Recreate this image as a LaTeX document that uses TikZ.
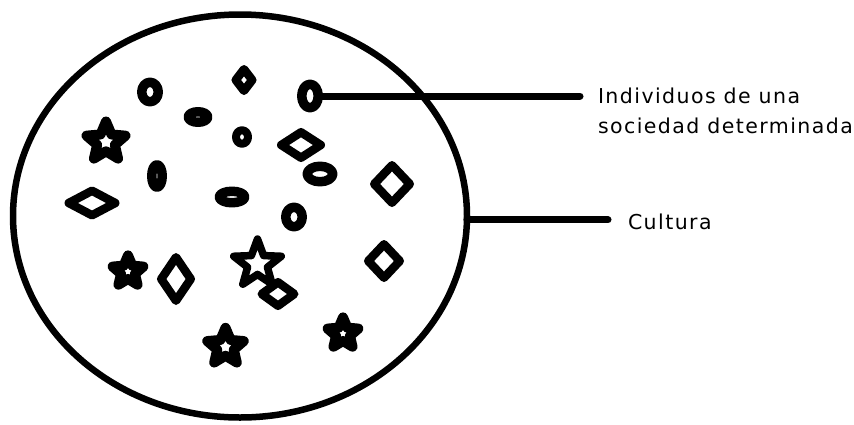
\documentclass[tikz,border=0pt]{standalone}
\usepackage{fontspec}
\setmainfont{DejaVu Sans}
\usetikzlibrary{shapes.geometric}
\begin{document}
\begin{tikzpicture}[x=1pt,y=-1pt,
  thing/.style={draw=black, line width=8.5pt, inner sep=0pt, outer sep=0pt, line join=round},
  oval/.style={thing, ellipse, line width=9.5pt},
  rhomb/.style={thing, diamond},
  starry/.style={thing, star, star points=5, star point ratio=2.2, line width=10pt},
  lbl/.style={font=\fontsize{20.5}{30}\selectfont\addfontfeature{LetterSpace=7}, inner sep=0pt, outer sep=0pt, anchor=base west},
  lead/.style={line width=7pt, line cap=round}]
\useasboundingbox[fill=white] (0,0) rectangle (854,424);
% the big circle: Cultura
\node[thing, ellipse, line width=6.5pt, minimum width=454pt, minimum height=403pt] (cult) at (240,216) {};
% individuals
\node[oval, minimum width=16.5pt, minimum height=19.5pt] (o1) at (150,92) {};
\node[rhomb, minimum width=16.5pt, minimum height=21.5pt] (d1) at (244,80) {};
\node[oval, minimum width=19.5pt, minimum height=10.5pt] (o2) at (198,117) {};
\node[oval, line width=8pt, minimum width=12pt, minimum height=13.5pt] (o3) at (242,137) {};
\node[starry, minimum size=41pt] (s1) at (106,142) {};
\node[oval, minimum width=10.5pt, minimum height=22.5pt] (o4) at (157,176) {};
\node[oval, minimum width=16.5pt, minimum height=23.5pt] (o5) at (310,96) {};
\node[rhomb, minimum width=39.5pt, minimum height=25.5pt] (d2) at (301,145) {};
\node[oval, minimum width=25.5pt, minimum height=15.5pt] (o6) at (320,174) {};
\node[rhomb, minimum width=35.5pt, minimum height=37.5pt] (d3) at (392,184) {};
\node[rhomb, minimum width=46.5pt, minimum height=24.5pt] (d4) at (92,203) {};
\node[oval, minimum width=25.5pt, minimum height=11.5pt] (o7) at (232,197) {};
\node[oval, minimum width=16.5pt, minimum height=19.5pt] (o8) at (294,217) {};
\node[rhomb, minimum width=31.5pt, minimum height=33.5pt] (d5) at (384,261) {};
\node[starry, minimum size=32.4pt] (s2) at (128,271.6) {};
\node[rhomb, minimum width=29.5pt, minimum height=43.5pt] (d6) at (176,279) {};
\node[starry, line width=7.5pt, star point ratio=2.4, minimum size=50pt] (s3) at (257.5,264) {};
\node[rhomb, minimum width=32.5pt, minimum height=23.5pt] (d7) at (278,294) {};
\node[starry, minimum size=38.4pt] (s4) at (225.5,347) {};
\node[starry, minimum size=32.4pt] (s5) at (343,333.6) {};
% labels
\coordinate (iend) at (580,97);
\coordinate (cend) at (608,222);
\draw[lead] (o5.east) -- (o5.east -| iend);
\draw[lead] (cult.-1.52) -- (cult.-1.52 -| cend);
\node[lbl] (ind1) at (598,103) {Individuos de una};
\node[lbl] (ind2) at (598,133) {sociedad determinada};
\node[lbl] (cul) at (628,229) {Cultura};
\end{tikzpicture}
\end{document}
